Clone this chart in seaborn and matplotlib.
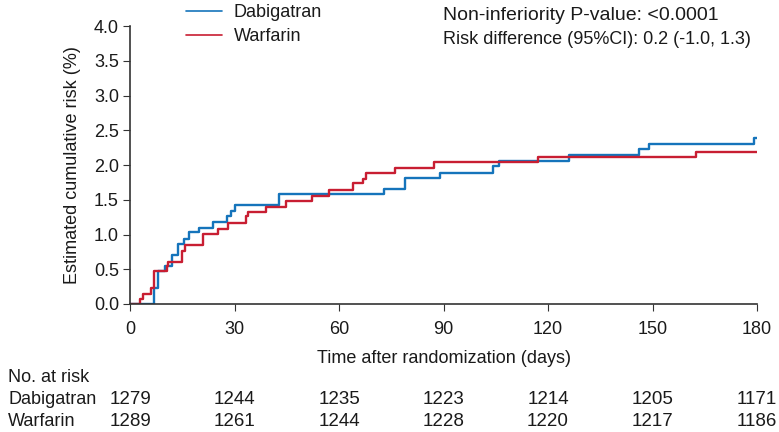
import pandas as pd
import matplotlib.pyplot as plt
import seaborn as sns

# Cumulative risk curves (days, %)
dabi_days = [0, 7.0, 8.1, 9.9, 12.0, 13.9, 15.6, 16.8, 19.9, 23.7, 27.8, 29.0, 30.0,
             42.9, 73.0, 79.0, 89.0, 104.1, 106.0, 126.1, 146.1, 149.0, 179.2, 180]
dabi_risk = [0, 0.23, 0.48, 0.54, 0.70, 0.86, 0.94, 1.03, 1.10, 1.18, 1.27, 1.34, 1.42,
             1.58, 1.65, 1.82, 1.89, 1.98, 2.06, 2.15, 2.23, 2.30, 2.39, 2.39]

warf_days = [0, 2.9, 3.8, 6.0, 7.0, 10.5, 11.0, 14.8, 15.8, 21.0, 25.2, 28.0, 33.3, 34.0,
             39.0, 44.8, 52.2, 57.1, 63.9, 66.8, 67.8, 76.1, 87.3, 117.0, 162.4, 180]
warf_risk = [0, 0.07, 0.14, 0.23, 0.47, 0.54, 0.61, 0.76, 0.85, 1.01, 1.08, 1.17, 1.26, 1.33,
             1.39, 1.48, 1.55, 1.64, 1.74, 1.80, 1.88, 1.96, 2.04, 2.12, 2.19, 2.19]

# Number at risk table
risk_times = [0, 30, 60, 90, 120, 150, 180]
dabi_at_risk = [1279, 1244, 1235, 1223, 1214, 1205, 1171]
warf_at_risk = [1289, 1261, 1244, 1228, 1220, 1217, 1186]

arms = ['Dabigatran', 'Warfarin']
colors = {'Dabigatran': '#1574bb', 'Warfarin': '#c81e32'}

df = pd.concat([
    pd.DataFrame({'arm': 'Dabigatran', 'day': dabi_days, 'risk': dabi_risk}),
    pd.DataFrame({'arm': 'Warfarin', 'day': warf_days, 'risk': warf_risk}),
])

sns.set_style('ticks')
plt.rcParams['font.family'] = ['Liberation Sans', 'DejaVu Sans']
fs = 13
txt_color = '#1a1a1a'

fig = plt.figure(figsize=(7.79, 4.32), dpi=100)
ax = fig.add_axes([0.1669, 0.2963, 0.8049, 0.6435])

sns.lineplot(data=df, x='day', y='risk', hue='arm', hue_order=arms, palette=colors,
             estimator=None, drawstyle='steps-post', linewidth=1.7, ax=ax, legend=False)

ax.set_xlim(0, 180)
ax.set_ylim(0, 4.0)
ax.set_xticks(risk_times)
ax.set_yticks([i * 0.5 for i in range(9)])
ax.set_yticklabels([f'{i * 0.5:.1f}' for i in range(9)])
ax.set_xlabel('Time after randomization (days)', fontsize=fs, labelpad=9, color=txt_color)
ax.set_ylabel('Estimated cumulative risk (%)', fontsize=fs, labelpad=9, color=txt_color)
ax.tick_params(labelsize=fs, length=5, color='#333333', labelcolor=txt_color)
ax.tick_params(axis='x', pad=7)
ax.tick_params(axis='y', pad=3)
for side in ['top', 'right']:
    ax.spines[side].set_visible(False)
for side in ['left', 'bottom']:
    ax.spines[side].set_color('#333333')
    ax.spines[side].set_linewidth(1.2)

# Legend above the plotting area
handles = [plt.Line2D([], [], color=colors[a], lw=1.2) for a in arms]
fig.legend(handles, arms, loc='upper left', bbox_to_anchor=(186 / 779, 1 - 4 / 432), frameon=False,
           fontsize=fs, handlelength=2.0, handletextpad=0.65, labelspacing=0.4,
           borderpad=0, borderaxespad=0, labelcolor=txt_color)

fig.text(443 / 779, 1 - 16 / 432, 'Non-inferiority P-value: <0.0001', fontsize=14,
         va='center', color=txt_color)
fig.text(443 / 779, 1 - 40 / 432, 'Risk difference (95%CI): 0.2 (-1.0, 1.3)', fontsize=13,
         va='center', color=txt_color)

# Number at risk table
fig.text(8 / 779, 1 - 378 / 432, 'No. at risk', fontsize=fs, va='center', color=txt_color)
for label, counts, ypix in [('Dabigatran', dabi_at_risk, 399), ('Warfarin', warf_at_risk, 421)]:
    fig.text(8 / 779, 1 - ypix / 432, label, fontsize=fs, va='center', color=txt_color)
    for t, n in zip(risk_times, counts):
        ax.annotate(str(n), xy=(t, 0), xycoords=('data', 'axes fraction'),
                    xytext=(0, 1 - ypix / 432), textcoords=('offset points', 'figure fraction'),
                    ha='center', va='center', fontsize=13.5, color=txt_color)

fig.savefig('out.png', dpi=100)
